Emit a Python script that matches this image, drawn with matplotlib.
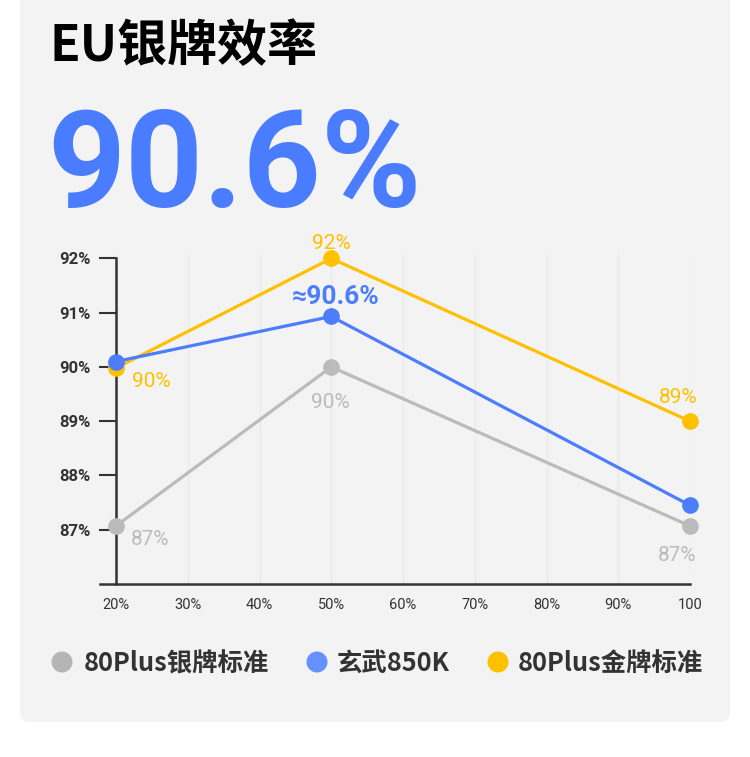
import matplotlib
matplotlib.use("Agg")
import matplotlib.pyplot as plt
from matplotlib.patches import FancyBboxPatch, Circle

plt.rcParams['font.family'] = ['Roboto', 'Noto Sans CJK SC', 'DejaVu Sans']

# ---- data ----
title = "EU银牌效率"
headline = "90.6%"
x_vals = [20, 50, 100]
x_ticks = [20, 30, 40, 50, 60, 70, 80, 90, 100]
x_ticklabels = ["20%", "30%", "40%", "50%", "60%", "70%", "80%", "90%", "100"]
y_ticks = [87, 88, 89, 90, 91, 92]
y_ticklabels = ["87%", "88%", "89%", "90%", "91%", "92%"]
series_names = ["80Plus银牌标准", "玄武850K", "80Plus金牌标准"]
silver = [87.07, 90.0, 87.07]
xuanwu = [90.1, 90.93, 87.45]
gold = [89.98, 92.0, 89.0]
blue_note = "≈90.6%"

C_GRAY = "#bbbbbb"
C_BLUE = "#4b7dfd"
C_GOLD = "#ffc000"
C_LEG = ["#b5b5b5", "#6690ff", "#ffc000"]
C_TXT = "#333333"

W, H = 750, 757
fig = plt.figure(figsize=(W / 100, H / 100), dpi=100)
fig.patch.set_facecolor("white")

# background axes in pixel coordinates
bg = fig.add_axes([0, 0, 1, 1], zorder=0)
bg.set_xlim(0, W)
bg.set_ylim(H, 0)
bg.axis("off")
bg.add_patch(FancyBboxPatch((20, -30), 710, 752, boxstyle="round,pad=0,rounding_size=10",
                            facecolor="#f3f3f3", edgecolor="none"))
bg.text(49, 61, title, fontsize=36, fontweight="bold", color="black",
        family=['Noto Sans CJK SC'], va="baseline", ha="left")
bg.text(47, 207, headline, fontsize=98, fontweight="bold", color="#4a7cff",
        family=['Roboto'], va="baseline", ha="left")

# legend
leg_circ_x = [62, 317, 498]
leg_text_x = [84, 337, 518]
for name, cx, tx, c in zip(series_names, leg_circ_x, leg_text_x, C_LEG):
    bg.add_patch(Circle((cx, 662), 10.5, facecolor=c, edgecolor="none"))
    bg.text(tx, 671, name, fontsize=18.3, fontweight="bold", color=C_TXT,
            family=['Noto Sans CJK SC'], va="baseline", ha="left")

# chart axes
left_px, right_px, bottom_px, top_px = 100, 690, 584, 253
ax = fig.add_axes([left_px / W, 1 - bottom_px / H, (right_px - left_px) / W,
                   (bottom_px - top_px) / H], zorder=1)
ax.patch.set_alpha(0)
ppu = (690 - 116) / 80.0
ax.set_xlim(20 - 16 / ppu, 100)
ax.set_ylim(86, 92.1)

for xv in x_ticks:
    ax.axvline(xv, color="#eaeaea", lw=1, zorder=0)

ax.spines["top"].set_visible(False)
ax.spines["right"].set_visible(False)
ax.spines["left"].set_position(("data", 20))
ax.spines["left"].set_bounds(86, 92)
ax.spines["left"].set_color(C_TXT)
ax.spines["left"].set_linewidth(1.8)
ax.spines["bottom"].set_color(C_TXT)
ax.spines["bottom"].set_linewidth(1.8)

ax.set_yticks(y_ticks)
ax.set_yticklabels(y_ticklabels, fontsize=12, fontweight="bold", color=C_TXT)
ax.tick_params(axis="y", length=12, width=1.5, color=C_TXT, pad=6)
ax.set_xticks(x_ticks)
ax.set_xticklabels(x_ticklabels, fontsize=10.5, color=C_TXT)
ax.tick_params(axis="x", length=0, pad=10)

lw, ms = 2.3, 11
ax.plot(x_vals, silver, color=C_GRAY, lw=lw, marker="o", ms=ms, clip_on=False, zorder=3)
ax.plot(x_vals, gold, color=C_GOLD, lw=lw, marker="o", ms=ms, clip_on=False, zorder=4)
ax.plot(x_vals, xuanwu, color=C_BLUE, lw=lw, marker="o", ms=ms, clip_on=False, zorder=5)

lab_kw = dict(fontsize=15, fontweight="normal", ha="center", va="baseline", zorder=6)
ax.annotate("92%", (x_vals[1], gold[1]), xytext=(0, 9), textcoords="offset pixels", color=C_GOLD, **lab_kw)
ax.annotate("90%", (x_vals[0], gold[0]), xytext=(35, -19), textcoords="offset pixels", color=C_GOLD, **lab_kw)
ax.annotate("89%", (x_vals[2], gold[2]), xytext=(-12, 18), textcoords="offset pixels", color=C_GOLD, **lab_kw)
ax.annotate("90%", (x_vals[1], silver[1]), xytext=(-1, -41), textcoords="offset pixels", color=C_GRAY, **lab_kw)
ax.annotate("87%", (x_vals[0], silver[0]), xytext=(34, -19), textcoords="offset pixels", color=C_GRAY, **lab_kw)
ax.annotate("87%", (x_vals[2], silver[2]), xytext=(-13, -35), textcoords="offset pixels", color=C_GRAY, **lab_kw)
ax.annotate(blue_note, (x_vals[1], xuanwu[1]), xytext=(4, 12), textcoords="offset pixels",
            color=C_BLUE, fontsize=19, fontweight="bold", ha="center", va="baseline", zorder=6)

fig.savefig("out.png", dpi=100, facecolor="white")
